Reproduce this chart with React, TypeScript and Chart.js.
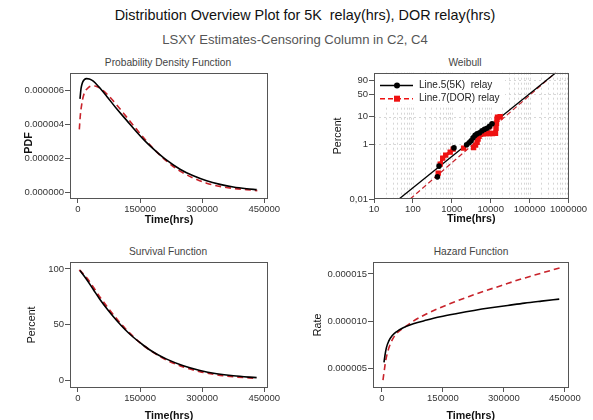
import React, { useEffect, useRef } from 'react';
import { Chart, registerables } from 'chart.js';

Chart.register(...registerables);

const FONT = "'Liberation Sans', Arial, Helvetica, sans-serif";
const BLACK = '#000000';
const RED = '#c8232b';
const RED_PT = '#ee1111';

const MAIN_TITLE = 'Distribution Overview Plot for 5K  relay(hrs), DOR relay(hrs)';
const SUB_TITLE = 'LSXY Estimates-Censoring Column in C2, C4';
const PANEL_TITLES = ['Probability Density Function', 'Weibull', 'Survival Function', 'Hazard Function'];
const LEGEND_LABELS = ['Line.5(5K)  relay', 'Line.7(DOR) relay'];

const TIME_TICKS = [0, 150000, 300000, 450000];

// ---- Probability density function ----
const PDF_5K_T = [4830, 7250, 10470, 15300, 20900, 27400, 37000, 49100, 69200, 93400, 117600, 141700, 165900, 190000, 214200, 246400, 278600, 310800, 343000, 375200, 407400, 431600];
const PDF_5K_V = [5.51e-6, 6.10e-6, 6.45e-6, 6.64e-6, 6.70e-6, 6.68e-6, 6.55e-6, 6.25e-6, 5.67e-6, 4.93e-6, 4.25e-6, 3.57e-6, 2.94e-6, 2.40e-6, 1.91e-6, 1.38e-6, 0.99e-6, 0.70e-6, 0.49e-6, 0.33e-6, 0.23e-6, 0.18e-6];
const PDF_DOR_T = [3220, 5640, 8860, 12900, 18500, 25000, 33000, 41100, 51500, 69200, 93400, 117600, 141700, 165900, 190000, 214200, 246400, 278600, 310800, 343000, 375200, 407400, 433200];
const PDF_DOR_V = [3.72e-6, 4.54e-6, 5.16e-6, 5.67e-6, 6.00e-6, 6.18e-6, 6.27e-6, 6.27e-6, 6.16e-6, 5.81e-6, 5.16e-6, 4.44e-6, 3.72e-6, 3.02e-6, 2.40e-6, 1.85e-6, 1.27e-6, 0.86e-6, 0.56e-6, 0.37e-6, 0.25e-6, 0.18e-6, 0.12e-6];
const PDF_TICKS = [0, 0.000002, 0.000004, 0.000006];
const PDF_LABELS = ['0.000000', '0.000002', '0.000004', '0.000006'];

// ---- Survival function (percent) ----
const SURV_5K_T = [4830, 20900, 37000, 53100, 73300, 93400, 113500, 133700, 153800, 173900, 194100, 214200, 254400, 294700, 335000, 375200, 431600];
const SURV_5K_V = [98.5, 90.5, 81.5, 72.5, 62.5, 53.5, 45.5, 38.5, 32.5, 27.0, 22.5, 18.8, 12.8, 8.6, 5.7, 3.8, 2.1];
const SURV_DOR_T = [3220, 20900, 37000, 53100, 73300, 93400, 113500, 133700, 153800, 173900, 194100, 214200, 254400, 294700, 335000, 375200, 431600];
const SURV_DOR_V = [99.2, 92.0, 83.5, 74.5, 64.5, 55.0, 46.5, 39.0, 32.5, 26.8, 22.0, 18.0, 11.8, 7.6, 4.8, 3.0, 1.6];
const SURV_TICKS = [0, 50, 100];
const SURV_LABELS = ['0', '50', '100'];

// ---- Hazard function ----
const HAZ_5K_T = [5060, 7550, 10860, 16670, 24960, 35740, 52320, 77200, 110400, 143500, 185000, 226500, 267900, 309400, 350800, 392300, 436200];
const HAZ_5K_V = [5.62e-6, 6.40e-6, 7.17e-6, 7.88e-6, 8.45e-6, 8.87e-6, 9.29e-6, 9.72e-6, 10.11e-6, 10.46e-6, 10.81e-6, 11.13e-6, 11.41e-6, 11.66e-6, 11.91e-6, 12.12e-6, 12.33e-6];
const HAZ_DOR_T = [2570, 5890, 9200, 14180, 20810, 29100, 39880, 56460, 77200, 102000, 135200, 168300, 209800, 251300, 292700, 334200, 375700, 437900];
const HAZ_DOR_V = [3.75e-6, 4.81e-6, 5.80e-6, 6.75e-6, 7.60e-6, 8.30e-6, 8.85e-6, 9.38e-6, 10.0e-6, 10.6e-6, 11.27e-6, 11.87e-6, 12.54e-6, 13.18e-6, 13.75e-6, 14.35e-6, 14.88e-6, 15.65e-6];
const HAZ_TICKS = [0.000005, 0.00001, 0.000015];
const HAZ_LABELS = ['0.000005', '0.000010', '0.000015'];

// ---- Weibull probability plot (hours, percent) ----
const WB_5K_T = [427, 470, 1137, 2404, 2786, 3134, 3524, 3969, 4464, 5176, 5998, 6949, 8051, 9328, 10810];
const WB_5K_P = [0.065, 0.161, 0.75, 0.98, 1.16, 1.37, 1.76, 2.17, 2.46, 2.67, 3.16, 3.58, 3.88, 4.58, 5.63];
const WB_DOR_T = [448, 504, 584, 697, 909, 1084, 2014, 3632, 4085, 4464, 4735, 5023, 5486, 6546, 7813, 9328, 11130, 13290, 13690, 14090, 14510, 14950, 17500];
const WB_DOR_P = [0.089, 0.191, 0.316, 0.406, 0.523, 0.672, 0.732, 0.763, 0.941, 1.21, 1.56, 2.0, 2.36, 2.46, 2.5, 2.5, 2.5, 2.57, 3.88, 5.86, 8.11, 9.68, 9.91];
const WB_5K_FIT_T = [44, 470000];
const WB_5K_FIT_P = [0.01, 98.7];
const WB_DOR_FIT_T = [85, 470000];
const WB_DOR_FIT_P = [0.01, 98.7];
const WB_X_TICKS = [10, 100, 1000, 10000, 100000, 1000000];
const WB_X_LABELS = ['10', '100', '1000', '10000', '100000', '1000000'];
const WB_Y_TICKS = [0.01, 1, 10, 50, 90];
const WB_Y_LABELS = ['0,01', '1', '10', '50', '90'];
const WB_Y_GRID = [1, 10, 50, 90];
const WB_P_MIN = 0.01;
const WB_P_MAX = 98.68;

const wb = (p: number) => Math.log(-Math.log(1 - p / 100));
const pts = (xs: number[], ys: (number)[]) => xs.map((x, i) => ({ x, y: ys[i] }));

const TICK_FONT = { family: FONT, size: 9.5 };
const TITLE_FONT_SIZE = 10.7;
const HALF_LH = (TITLE_FONT_SIZE * 1.2) / 2;

const framePlugin = {
  id: 'frame',
  afterDraw(chart: any) {
    const { ctx, chartArea: a } = chart;
    const l = Math.round(a.left) + 0.5;
    const t = Math.round(a.top) + 0.5;
    const r = Math.round(a.right) - 0.5;
    const b = Math.round(a.bottom) - 0.5;
    ctx.save();
    ctx.setLineDash([]);
    ctx.strokeStyle = '#555';
    ctx.lineWidth = 1;
    ctx.strokeRect(l, t, r - l, b - t);
    ctx.restore();
  },
};

// Rotated y-axis title drawn at a given canvas position (used for the PDF panel)
function yTitlePlugin(text: string, cx: number, cy: number, bold: boolean) {
  return {
    id: 'ytitle',
    afterDraw(chart: any) {
      const { ctx } = chart;
      ctx.save();
      ctx.translate(cx, cy);
      ctx.rotate(-Math.PI / 2);
      ctx.font = `${bold ? 'bold ' : ''}${TITLE_FONT_SIZE}px ${FONT}`;
      ctx.fillStyle = '#111';
      ctx.textAlign = 'center';
      ctx.textBaseline = 'middle';
      ctx.fillText(text, 0, 0);
      ctx.restore();
    },
  };
}

function xTimeScale(min: number, max: number, height: number, titleCenterOffset: number) {
  return {
    type: 'linear',
    min,
    max,
    afterBuildTicks: (s: any) => {
      s.ticks = TIME_TICKS.map((v) => ({ value: v }));
    },
    afterFit: (s: any) => {
      s.height = height;
    },
    ticks: {
      callback: (v: any) => String(v),
      font: TICK_FONT,
      color: '#333',
      padding: 1,
      maxRotation: 0,
      autoSkip: false,
    },
    grid: { drawOnChartArea: false, drawTicks: true, tickLength: 4, tickColor: '#555', tickWidth: 1 },
    border: { display: false },
    title: {
      display: true,
      text: 'Time(hrs)',
      color: '#111',
      font: { family: FONT, size: TITLE_FONT_SIZE, weight: 'bold' },
      padding: { top: 0, bottom: titleCenterOffset - HALF_LH },
    },
  };
}

function yScale(opts: {
  min: number; max: number; ticks: number[]; labels: string[]; width: number; title: string; bold: boolean; titleX: number; showTitle?: boolean;
}) {
  return {
    type: 'linear',
    min: opts.min,
    max: opts.max,
    afterBuildTicks: (s: any) => {
      s.ticks = opts.ticks.map((v) => ({ value: v }));
    },
    afterFit: (s: any) => {
      s.width = opts.width;
    },
    ticks: {
      callback: (_v: any, i: number) => opts.labels[i],
      font: TICK_FONT,
      color: '#333',
      padding: 1,
      autoSkip: false,
    },
    grid: { drawOnChartArea: false, drawTicks: true, tickLength: 5, tickColor: '#555', tickWidth: 1 },
    border: { display: false },
    title: {
      display: opts.showTitle !== false,
      text: opts.title,
      color: '#111',
      font: { family: FONT, size: TITLE_FONT_SIZE, weight: opts.bold ? 'bold' : 'normal' },
      padding: { top: opts.titleX - HALF_LH, bottom: 0 },
    },
  };
}

function baseOptions(padding: any, scales: any) {
  return {
    animation: false,
    responsive: false,
    maintainAspectRatio: false,
    devicePixelRatio: 1,
    events: [],
    layout: { padding },
    plugins: { legend: { display: false }, tooltip: { enabled: false }, title: { display: false } },
    scales,
  };
}

function curve(label: string, xs: number[], ys: number[], color: string, dash: number[], width = 1.6) {
  return {
    label,
    data: pts(xs, ys),
    showLine: true,
    borderColor: color,
    backgroundColor: color,
    borderWidth: width,
    borderDash: dash,
    pointRadius: 0,
    cubicInterpolationMode: 'monotone',
    fill: false,
  };
}

const pdfConfig = () => ({
  type: 'scatter',
  data: {
    datasets: [
      curve('5K relay', PDF_5K_T, PDF_5K_V, BLACK, []),
      curve('DOR relay', PDF_DOR_T, PDF_DOR_V, RED, [6, 4]),
    ],
  },
  options: baseOptions({ left: 0, right: 28, top: 6, bottom: 0 }, {
    x: xTimeScale(-19300, 459000, 37, 16),
    y: yScale({ min: -0.37e-6, max: 7.05e-6, ticks: PDF_TICKS, labels: PDF_LABELS, width: 70, title: 'PDF', bold: true, titleX: 29.5, showTitle: false }),
  }),
  plugins: [framePlugin, yTitlePlugin('PDF', 29.5, 77, true)],
});

const survConfig = () => ({
  type: 'scatter',
  data: {
    datasets: [
      curve('5K relay', SURV_5K_T, SURV_5K_V, BLACK, []),
      curve('DOR relay', SURV_DOR_T, SURV_DOR_V, RED, [6, 4], 1.8),
    ],
  },
  options: baseOptions({ left: 0, right: 28, top: 6, bottom: 0 }, {
    x: xTimeScale(-19300, 459000, 42, 14),
    y: yScale({ min: -7.2, max: 106.5, ticks: SURV_TICKS, labels: SURV_LABELS, width: 70, title: 'Percent', bold: false, titleX: 31.7 }),
  }),
  plugins: [framePlugin],
});

const hazConfig = () => ({
  type: 'scatter',
  data: {
    datasets: [
      curve('5K relay', HAZ_5K_T, HAZ_5K_V, BLACK, []),
      curve('DOR relay', HAZ_DOR_T, HAZ_DOR_V, RED, [6, 4]),
    ],
  },
  options: baseOptions({ left: 0, right: 24.5, top: 6.5, bottom: 0 }, {
    x: xTimeScale(-22000, 459000, 42, 14),
    y: yScale({ min: 2.91e-6, max: 16.3e-6, ticks: HAZ_TICKS, labels: HAZ_LABELS, width: 77, title: 'Rate', bold: false, titleX: 22.5 }),
  }),
  plugins: [framePlugin],
});

const wbGridPlugin = {
  id: 'wbgrid',
  beforeDatasetsDraw(chart: any) {
    const { ctx, chartArea: a, scales } = chart;
    const xs = scales.x;
    const ys = scales.y;
    ctx.save();
    ctx.strokeStyle = '#d6d6d6';
    ctx.lineWidth = 1;
    ctx.setLineDash([2, 3]);
    for (let d = 10; d < 1000000; d *= 10) {
      for (let m = 1; m <= 9; m++) {
        const v = d * m;
        if (v <= 10) continue;
        const px = Math.round(xs.getPixelForValue(v)) + 0.5;
        ctx.beginPath();
        ctx.moveTo(px, a.top);
        ctx.lineTo(px, a.bottom);
        ctx.stroke();
      }
    }
    for (const p of WB_Y_GRID) {
      const py = Math.round(ys.getPixelForValue(wb(p))) + 0.5;
      ctx.beginPath();
      ctx.moveTo(a.left, py);
      ctx.lineTo(a.right, py);
      ctx.stroke();
    }
    ctx.restore();
  },
};

const wbLegendPlugin = {
  id: 'wblegend',
  afterDatasetsDraw(chart: any) {
    const { ctx, chartArea: a } = chart;
    const x0 = a.left + 6;
    const x1 = a.left + 39;
    const mx = a.left + 23;
    const tx = a.left + 45;
    const rows = [a.top + 12.7, a.top + 26];
    ctx.save();
    ctx.fillStyle = '#ffffff';
    ctx.fillRect(a.left + 1, a.top + 1, 130, 31);
    ctx.font = `10px ${FONT}`;
    ctx.textBaseline = 'middle';
    ctx.strokeStyle = BLACK;
    ctx.lineWidth = 1.5;
    ctx.setLineDash([]);
    ctx.beginPath();
    ctx.moveTo(x0, rows[0]);
    ctx.lineTo(x1, rows[0]);
    ctx.stroke();
    ctx.fillStyle = BLACK;
    ctx.beginPath();
    ctx.arc(mx, rows[0], 3, 0, Math.PI * 2);
    ctx.fill();
    ctx.fillStyle = '#222';
    ctx.fillText(LEGEND_LABELS[0], tx, rows[0]);
    ctx.strokeStyle = RED_PT;
    ctx.lineWidth = 1.5;
    ctx.setLineDash([5, 3]);
    ctx.beginPath();
    ctx.moveTo(x0, rows[1]);
    ctx.lineTo(x1, rows[1]);
    ctx.stroke();
    ctx.setLineDash([]);
    ctx.fillStyle = RED_PT;
    ctx.fillRect(mx - 3, rows[1] - 3, 6, 6);
    ctx.fillStyle = '#222';
    ctx.fillText(LEGEND_LABELS[1], tx, rows[1]);
    ctx.restore();
  },
};

const wbConfig = () => ({
  type: 'scatter',
  data: {
    datasets: [
      {
        label: '5K relay points',
        data: pts(WB_5K_T, WB_5K_P.map(wb)),
        showLine: false,
        pointStyle: 'circle',
        pointRadius: 2.8,
        pointBorderWidth: 0,
        backgroundColor: BLACK,
        borderColor: BLACK,
      },
      {
        label: 'DOR relay points',
        data: pts(WB_DOR_T, WB_DOR_P.map(wb)),
        showLine: true,
        borderWidth: 3,
        borderColor: RED_PT,
        segment: {
          borderColor: (c: any) => (Math.hypot(c.p1.x - c.p0.x, c.p1.y - c.p0.y) > 7 ? 'rgba(0,0,0,0)' : undefined),
        },
        pointStyle: 'rect',
        pointRadius: 3.8,
        pointBorderWidth: 0,
        backgroundColor: RED_PT,
      },
      {
        label: '5K relay fit',
        data: pts(WB_5K_FIT_T, WB_5K_FIT_P.map(wb)),
        showLine: true,
        borderColor: BLACK,
        borderWidth: 1.3,
        pointRadius: 0,
      },
      {
        label: 'DOR relay fit',
        data: pts(WB_DOR_FIT_T, WB_DOR_FIT_P.map(wb)),
        showLine: true,
        borderColor: RED,
        borderWidth: 1.2,
        borderDash: [5, 3],
        pointRadius: 0,
      },
    ],
  },
  options: baseOptions({ left: 0, right: 24.5, top: 6.3, bottom: 0 }, {
    x: {
      type: 'logarithmic',
      min: 10,
      max: 1000000,
      afterBuildTicks: (s: any) => {
        s.ticks = WB_X_TICKS.map((v) => ({ value: v }));
      },
      afterFit: (s: any) => {
        s.height = 37;
      },
      ticks: {
        callback: (_v: any, i: number) => WB_X_LABELS[i],
        font: TICK_FONT,
        color: '#333',
        padding: 1,
        maxRotation: 0,
        autoSkip: false,
      },
      grid: { drawOnChartArea: false, drawTicks: true, tickLength: 4, tickColor: '#555', tickWidth: 1 },
      border: { display: false },
      title: {
        display: true,
        text: 'Time(hrs)',
        color: '#111',
        font: { family: FONT, size: TITLE_FONT_SIZE, weight: 'bold' },
        padding: { top: 0, bottom: 17 - HALF_LH },
      },
    },
    y: yScale({ min: wb(WB_P_MIN), max: wb(WB_P_MAX), ticks: WB_Y_TICKS.map(wb), labels: WB_Y_LABELS, width: 78, title: 'Percent', bold: false, titleX: 42.3 }),
  }),
  plugins: [wbGridPlugin, wbLegendPlugin, framePlugin],
});

function ChartPanel(props: { left: number; top: number; width: number; height: number; config: () => any }) {
  const ref = useRef<HTMLCanvasElement>(null);
  useEffect(() => {
    const chart = new Chart(ref.current as HTMLCanvasElement, props.config());
    return () => chart.destroy();
  }, []);
  return (
    <canvas
      ref={ref}
      width={props.width}
      height={props.height}
      style={{ position: 'absolute', left: props.left, top: props.top, width: props.width, height: props.height }}
    />
  );
}

function CenteredText(props: { cx: number; cy: number; size: number; color: string; text: string; weight?: string }) {
  const lh = Math.round(props.size * 1.3);
  return (
    <div
      style={{
        position: 'absolute',
        left: props.cx - 300,
        width: 600,
        top: props.cy - lh / 2,
        height: lh,
        lineHeight: `${lh}px`,
        fontSize: props.size,
        fontWeight: (props.weight as any) || 'normal',
        color: props.color,
        textAlign: 'center',
        whiteSpace: 'pre',
        fontFamily: FONT,
      }}
    >
      {props.text}
    </div>
  );
}

export default function App() {
  return (
    <div style={{ position: 'absolute', left: 0, top: 0, width: 593, height: 420, overflow: 'hidden', background: '#fff' }}>
      <CenteredText cx={305} cy={15} size={14.4} color="#111" text={MAIN_TITLE} />
      <CenteredText cx={295} cy={39.5} size={13.1} color="#555" text={SUB_TITLE} />
      <CenteredText cx={168} cy={62} size={10.2} color="#444" text={PANEL_TITLES[0]} />
      <CenteredText cx={465} cy={62} size={10.2} color="#444" text={PANEL_TITLES[1]} />
      <CenteredText cx={168} cy={251} size={10.2} color="#444" text={PANEL_TITLES[2]} />
      <CenteredText cx={471} cy={251} size={10.2} color="#444" text={PANEL_TITLES[3]} />
      <ChartPanel left={0} top={66} width={296} height={170} config={pdfConfig} />
      <ChartPanel left={296} top={66} width={297} height={170} config={wbConfig} />
      <ChartPanel left={0} top={255} width={296} height={175} config={survConfig} />
      <ChartPanel left={296} top={255} width={297} height={175} config={hazConfig} />
    </div>
  );
}
